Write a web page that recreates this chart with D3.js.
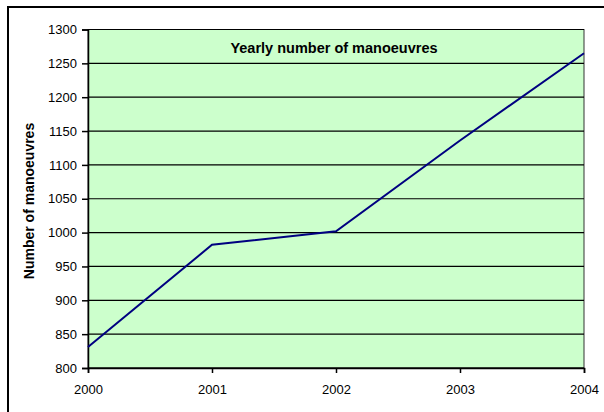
<!DOCTYPE html>
<html>
<head>
<meta charset="utf-8">
<script src="https://cdn.jsdelivr.net/npm/d3@7"></script>
<style>
  body { margin: 0; background: #fff; }
  svg { display: block; font-family: "Liberation Sans", Arial, sans-serif; }
</style>
</head>
<body>
<script>
// données
var years = [2000, 2001, 2002, 2003, 2004];
var manoeuvres = [831, 982, 1002, 1136, 1265];
var yTicks = [800, 850, 900, 950, 1000, 1050, 1100, 1150, 1200, 1250, 1300];

var width = 604;
var height = 412;
var margin = { top: 29.5, right: 20, bottom: 44, left: 88 };

var svg = d3.select("body")
    .append("svg")
    .attr("width", width)
    .attr("height", height);

// cadre extérieur (seulement gauche et haut visibles)
svg.append("rect")
    .attr("x", 8)
    .attr("y", 7)
    .attr("width", width + 20)
    .attr("height", height + 20)
    .attr("fill", "none")
    .attr("stroke", "#000")
    .attr("stroke-width", 2);

var xscale = d3.scaleLinear()
    .domain([2000, 2004])
    .range([margin.left, width - margin.right]);

var yscale = d3.scaleLinear()
    .domain([800, 1300])
    .range([height - margin.bottom, margin.top]);

// fond de la zone de tracé
svg.append("rect")
    .attr("x", xscale(2000))
    .attr("y", yscale(1300))
    .attr("width", xscale(2004) - xscale(2000))
    .attr("height", yscale(800) - yscale(1300))
    .attr("fill", "#ccffcc")
    .attr("stroke", "#333")
    .attr("stroke-width", 1);

// lignes de grille
svg.append("g")
    .selectAll("line")
    .data(yTicks)
    .enter()
    .append("line")
    .attr("x1", xscale(2000))
    .attr("x2", xscale(2004))
    .attr("y1", function (d) { return yscale(d); })
    .attr("y2", function (d) { return yscale(d); })
    .attr("stroke", "#000")
    .attr("stroke-width", 1.2);

// axes
var y_axis = d3.axisLeft(yscale)
    .tickValues(yTicks)
    .tickSize(6)
    .tickPadding(5)
    .tickFormat(d3.format("d"));

var x_axis = d3.axisBottom(xscale)
    .tickValues(years)
    .tickSize(5)
    .tickPadding(12)
    .tickFormat(d3.format("d"));

var gy = svg.append("g")
    .attr("transform", "translate(" + xscale(2000) + ",0)")
    .call(y_axis);

var gx = svg.append("g")
    .attr("transform", "translate(0," + yscale(800) + ")")
    .call(x_axis);

[gx, gy].forEach(function (g) {
    g.select(".domain").attr("stroke", "#000").attr("stroke-width", 1.5);
    g.selectAll(".tick line").attr("stroke", "#000").attr("stroke-width", 1.5);
    g.selectAll(".tick text")
        .attr("fill", "#000")
        .style("font-size", "13px")
        .style("font-family", "Liberation Sans, Arial, sans-serif");
});

// courbe
var line = d3.line()
    .x(function (d, i) { return xscale(years[i]); })
    .y(function (d) { return yscale(d); });

svg.append("path")
    .datum(manoeuvres)
    .attr("d", line)
    .attr("fill", "none")
    .attr("stroke", "#000080")
    .attr("stroke-width", 2);

// titres
svg.append("text")
    .attr("x", 334)
    .attr("y", 53)
    .attr("text-anchor", "middle")
    .style("font-size", "14.5px")
    .style("font-weight", "bold")
    .text("Yearly number of manoeuvres");

svg.append("text")
    .attr("transform", "translate(34,201) rotate(-90)")
    .attr("text-anchor", "middle")
    .style("font-size", "14px")
    .style("font-weight", "bold")
    .text("Number of manoeuvres");
</script>
</body>
</html>
